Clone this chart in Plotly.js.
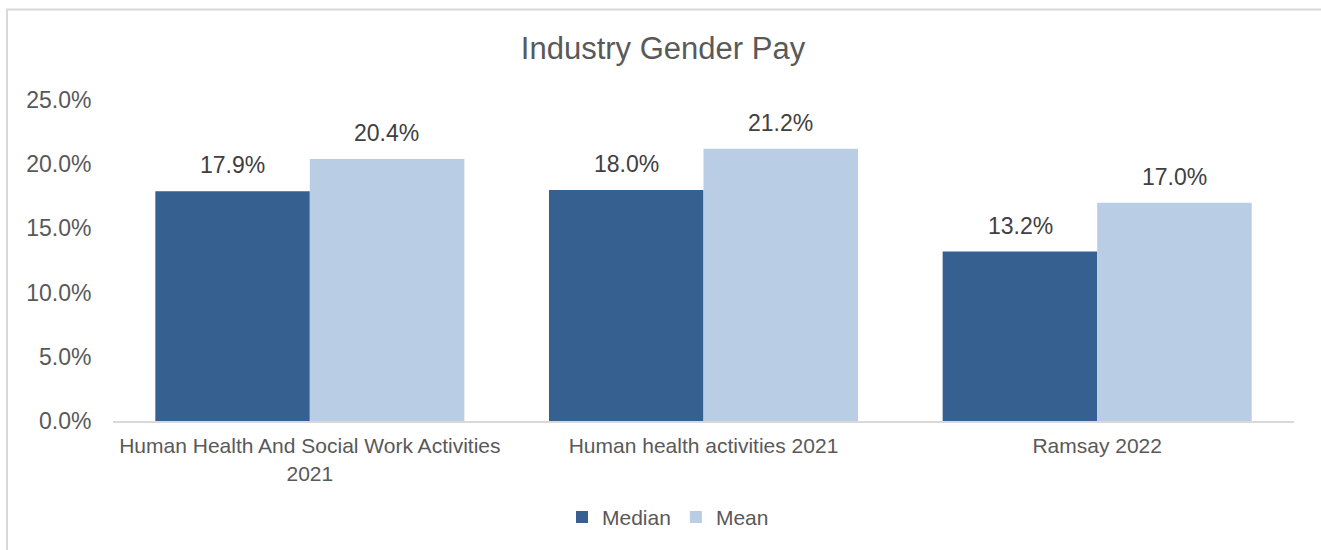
<!DOCTYPE html>
<html>
<head>
<meta charset="utf-8">
<script src="https://cdn.plot.ly/plotly-3.0.1.min.js"></script>
<style>html,body{margin:0;padding:0;background:#fff;}#chart{width:1321px;height:550px;}</style>
</head>
<body>
<div id="chart"></div>
<script>
const categories = ["Human Health And Social Work Activities<br>2021", "Human health activities 2021", "Ramsay 2022"];
const seriesNames = ["Median", "Mean"];
const medianValues = [0.179, 0.180, 0.132];
const meanValues = [0.204, 0.212, 0.170];
const yTickValues = [0, 0.05, 0.10, 0.15, 0.20, 0.25];

const colors = ["#36608F", "#B9CDE5"];
const fontFam = "Liberation Sans, Arial, sans-serif";

const traces = [medianValues, meanValues].map((vals, i) => ({
  type: "bar",
  name: seriesNames[i],
  x: categories,
  y: vals,
  marker: {color: colors[i]},
  hoverinfo: "skip"
}));

const annotations = [];
[medianValues, meanValues].forEach((vals, i) => {
  vals.forEach((v, j) => {
    annotations.push({
      x: categories[j], y: v, xref: "x", yref: "y",
      text: (v * 100).toFixed(1) + "%",
      showarrow: false,
      xshift: i === 0 ? -77 : 77,
      yanchor: "bottom",
      yshift: 11,
      font: {family: fontFam, size: 23, color: "#404040"}
    });
  });
});

const layout = {
  width: 1321, height: 550,
  margin: {l: 113, r: 27, t: 100, b: 127},
  paper_bgcolor: "#ffffff",
  plot_bgcolor: "#ffffff",
  title: {text: "Industry Gender Pay", x: (663 - 0) / 1321, xanchor: "center", y: 0.913, yanchor: "middle",
          font: {family: fontFam, size: 31, color: "#595959"}},
  barmode: "group",
  bargap: 0.215,
  bargroupgap: 0,
  showlegend: true,
  legend: {orientation: "h", x: (668 - 113) / 1181, xanchor: "center", y: -0.30, yanchor: "middle",
           font: {family: fontFam, size: 21, color: "#595959"}, itemwidth: 30, traceorder: "normal"},
  xaxis: {
    type: "category",
    showline: true, linecolor: "#D9D9D9", linewidth: 2,
    showgrid: false, ticks: "", zeroline: false,
    ticklabelstandoff: 5,
    tickfont: {family: fontFam, size: 21, color: "#595959"}
  },
  yaxis: {
    range: [0, 0.25],
    tickvals: yTickValues,
    tickformat: ".1%",
    showgrid: false, zeroline: false, showline: false,
    ticks: "outside", ticklen: 16, tickcolor: "rgba(0,0,0,0)",
    tickfont: {family: fontFam, size: 23, color: "#595959"}
  },
  annotations: annotations,
  shapes: [{
    type: "rect", xref: "paper", yref: "paper",
    x0: (7 - 113) / 1181, x1: (1340 - 113) / 1181,
    y0: (423 - 570) / 323, y1: (423 - 9) / 323,
    line: {color: "#D9D9D9", width: 2}, fillcolor: "rgba(0,0,0,0)", layer: "below"
  }]
};

Plotly.newPlot("chart", traces, layout, {displayModeBar: false, staticPlot: true});
</script>
</body>
</html>
